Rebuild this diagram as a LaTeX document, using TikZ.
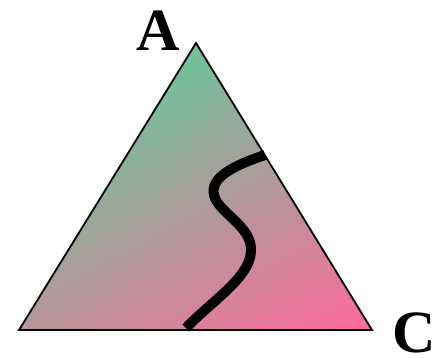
\documentclass[tikz,border=0pt]{standalone}
\usepackage{fontspec}
\setmainfont{Liberation Serif}
\definecolor{topgreen}{RGB}{110,195,155}
\definecolor{cornerpink}{RGB}{255,105,155}

\begin{document}
\begin{tikzpicture}[x=1pt,y=-1pt]
                    \useasboundingbox(0,0)rectangle(432,357);
                    \coordinate(A)at(196,43);
                    \coordinate(B)at(19,330);
                    \coordinate(C)at(372,330);
                    \begin{scope}
                      \clip(A)--(B)--(C)--cycle;
                      \begin{scope}[transform canvas={rotate around={28.4:(A)}}]
                        \shade[top color=topgreen,bottom color=cornerpink](-204,43)rectangle(596,379);
                      \end{scope}
                    \end{scope}
                    \draw[line width=1.8pt](A)--(B)--(C)--cycle;
                    \draw[line width=10pt](265,155)..controls(232,166)and(210,178)..(214,195)
                        ..controls(218,213)and(253,226)..(251,252)
                        ..controls(249,278)and(213,300)..(186,328);
                    \node[anchor=base,inner sep=0pt,font=\fontsize{60}{60}\selectfont\bfseries](labA)at(158.5,50){A};
                    \node[anchor=base,inner sep=0pt,font=\fontsize{60}{60}\selectfont\bfseries](labC)at(414,352){C};
                \end{tikzpicture}
\end{document}
